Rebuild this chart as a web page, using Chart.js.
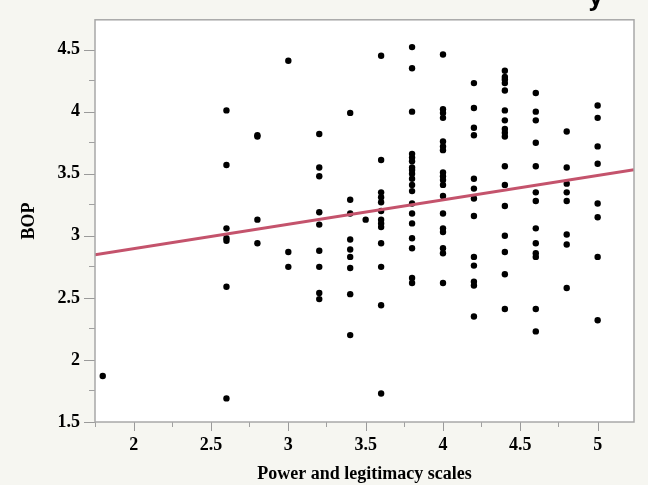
<!DOCTYPE html>
<html>
<head>
<meta charset="utf-8">
<script src="https://cdn.jsdelivr.net/npm/chart.js@4.4.1/dist/chart.umd.min.js"></script>
<style>
  html, body { margin: 0; padding: 0; background: #f6f6f1; }
  #wrap { width: 648px; height: 485px; }
</style>
</head>
<body>
<div id="wrap"><canvas id="chart" width="648" height="485"></canvas></div>
<script>
// Data: one array of BOP values per x column
const xColumns = [1.8, 2.6, 2.8, 3.0, 3.2, 3.4, 3.5, 3.6, 3.8, 4.0, 4.2, 4.4, 4.6, 4.8, 5.0];
const bopValues = [
  [1.87],
  [4.01, 3.57, 3.06, 2.98, 2.96, 2.59, 1.69],
  [3.80, 3.81, 3.13, 2.94],
  [4.41, 2.87, 2.75],
  [3.82, 3.55, 3.48, 3.19, 3.09, 2.88, 2.75, 2.54, 2.49],
  [3.99, 3.29, 3.18, 2.97, 2.89, 2.83, 2.74, 2.53, 2.20],
  [3.13],
  [4.45, 3.61, 3.35, 3.31, 3.27, 3.20, 3.13, 3.10, 3.07, 2.94, 2.75, 2.44, 1.73],
  [4.52, 4.35, 4.00, 3.66, 3.63, 3.60, 3.55, 3.53, 3.50, 3.46, 3.41, 3.36, 3.26, 3.18, 3.10, 2.98, 2.90, 2.66, 2.62],
  [4.46, 4.02, 3.99, 3.95, 3.76, 3.72, 3.69, 3.51, 3.48, 3.45, 3.41, 3.32, 3.18, 3.06, 3.03, 2.90, 2.86, 2.62],
  [4.23, 4.03, 3.87, 3.81, 3.46, 3.38, 3.30, 3.16, 2.83, 2.76, 2.63, 2.60, 2.35],
  [4.33, 4.28, 4.26, 4.23, 4.17, 4.01, 3.93, 3.86, 3.83, 3.80, 3.56, 3.41, 3.24, 3.00, 2.87, 2.69, 2.41],
  [4.15, 4.00, 3.93, 3.75, 3.56, 3.35, 3.28, 3.06, 2.94, 2.86, 2.83, 2.41, 2.23],
  [3.84, 3.55, 3.42, 3.35, 3.28, 3.01, 2.93, 2.58],
  [4.05, 3.95, 3.72, 3.58, 3.26, 3.15, 2.83, 2.32]
];

// Fitted line end points (x, BOP)
const fitX = [1.75, 5.235];
const fitY = [2.848, 3.533];

// Axis ranges and major tick labels
const xRange = [1.75, 5.235];
const yRange = [1.5, 4.74];
const xTicks = [2, 2.5, 3, 3.5, 4, 4.5, 5];
const yTicks = [1.5, 2, 2.5, 3, 3.5, 4, 4.5];

const points = [];
xColumns.forEach((x, i) => {
  bopValues[i].forEach(v => points.push({ x: x, y: v }));
});
const fitPoints = fitX.map((x, i) => ({ x: x, y: fitY[i] }));

const labelFont = { family: '"Liberation Serif", "DejaVu Serif", serif', size: 18, weight: 'bold' };
const isMajor = (list, v) => list.some(m => Math.abs(m - v) < 1e-6);

// Major ticks plus a minor tick halfway between them
function withMinor(major, range) {
  const step = major[1] - major[0];
  const all = [];
  for (let v = major[0] - step / 2; v <= range[1] + 1e-9; v += step / 2) {
    if (v >= range[0] - 1e-9) all.push(v);
  }
  return all.map(v => ({ value: v, major: isMajor(major, v) }));
}

// Backgrounds, frame, longer major ticks and the clipped heading fragment
const framePlugin = {
  id: 'frame',
  beforeDraw(chart) {
    const { ctx, chartArea: a } = chart;
    ctx.save();
    ctx.fillStyle = '#f6f6f1';
    ctx.fillRect(0, 0, chart.width, chart.height);
    ctx.fillStyle = '#ffffff';
    ctx.fillRect(a.left, a.top, a.right - a.left, a.bottom - a.top);
    ctx.fillStyle = '#000000';
    ctx.font = 'bold 24px "Open Sans", sans-serif';
    ctx.fillText('y', 589, 5);
    ctx.restore();
  },
  afterDraw(chart) {
    const { ctx, chartArea: a, scales } = chart;
    ctx.save();
    ctx.strokeStyle = '#9a9a9a';
    ctx.lineWidth = 1;
    ctx.beginPath();
    xTicks.forEach(v => {
      const px = Math.round(scales.x.getPixelForValue(v)) + 0.5;
      ctx.moveTo(px, a.bottom);
      ctx.lineTo(px, a.bottom + 9);
    });
    yTicks.forEach(v => {
      const py = Math.round(scales.y.getPixelForValue(v)) + 0.5;
      ctx.moveTo(a.left, py);
      ctx.lineTo(a.left - 11, py);
    });
    ctx.stroke();
    ctx.strokeStyle = '#a8a8a8';
    ctx.lineWidth = 1.5;
    ctx.strokeRect(a.left, a.top, a.right - a.left, a.bottom - a.top);
    ctx.restore();
  }
};

new Chart(document.getElementById('chart'), {
  type: 'scatter',
  data: {
    datasets: [
      {
        label: 'BOP',
        data: points,
        pointRadius: 3.2,
        pointHoverRadius: 3.2,
        pointBackgroundColor: '#000000',
        pointBorderWidth: 0,
        order: 2
      },
      {
        type: 'line',
        label: 'Fit',
        data: fitPoints,
        borderColor: '#c4536c',
        borderWidth: 3,
        pointRadius: 0,
        fill: false,
        order: 1
      }
    ]
  },
  options: {
    responsive: false,
    animation: false,
    layout: { padding: { left: 0, right: 14, top: 19, bottom: 0 } },
    plugins: {
      legend: { display: false },
      tooltip: { enabled: false }
    },
    scales: {
      x: {
        type: 'linear',
        min: xRange[0],
        max: xRange[1],
        afterBuildTicks: scale => { scale.ticks = withMinor(xTicks, xRange); },
        afterFit: scale => { scale.height = 63; },
        grid: {
          drawOnChartArea: false,
          tickLength: 5,
          tickColor: ctx => (ctx.tick && isMajor(xTicks, ctx.tick.value)) ? 'rgba(0,0,0,0)' : '#a0a0a0',
          tickWidth: 1
        },
        border: { display: false },
        ticks: {
          autoSkip: false,
          maxRotation: 0,
          padding: 8,
          color: '#000000',
          font: labelFont,
          callback: (v) => isMajor(xTicks, v) ? String(v) : ''
        },
        title: {
          display: true,
          text: 'Power and legitimacy scales',
          color: '#000000',
          font: labelFont,
          padding: { top: 0, bottom: 0 }
        }
      },
      y: {
        type: 'linear',
        min: yRange[0],
        max: yRange[1],
        afterBuildTicks: scale => { scale.ticks = withMinor(yTicks, yRange); },
        afterFit: scale => { scale.width = 95; },
        grid: {
          drawOnChartArea: false,
          tickLength: 6,
          tickColor: ctx => (ctx.tick && isMajor(yTicks, ctx.tick.value)) ? 'rgba(0,0,0,0)' : '#a0a0a0',
          tickWidth: 1
        },
        border: { display: false },
        ticks: {
          autoSkip: false,
          padding: 9,
          color: '#000000',
          font: labelFont,
          callback: (v) => isMajor(yTicks, v) ? String(v) : ''
        },
        title: {
          display: true,
          text: 'BOP',
          color: '#000000',
          font: labelFont,
          padding: { top: 19, bottom: 0 }
        }
      }
    }
  },
  plugins: [framePlugin]
});
</script>
</body>
</html>
